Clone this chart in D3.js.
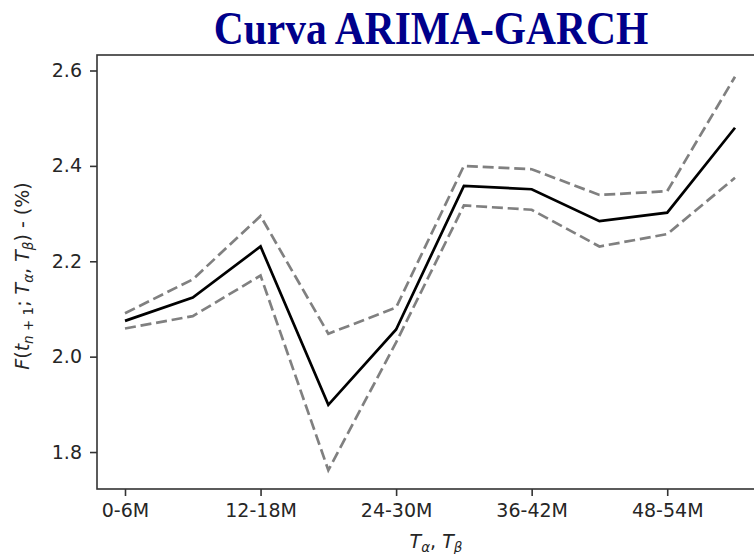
<!DOCTYPE html>
<html>
<head>
<meta charset="utf-8">
<script src="https://cdn.jsdelivr.net/npm/d3@7"></script>
<style>
  html, body { margin: 0; padding: 0; background: #fff; }
  svg { display: block; }
</style>
</head>
<body>
<svg id="chart" width="754" height="554"></svg>
<script>
// ---- data ----
const categories = ["0-6M","6-12M","12-18M","18-24M","24-30M","30-36M","36-42M","42-48M","48-54M","54-60M"];
const meanValues  = [2.075, 2.124, 2.231, 1.899, 2.057, 2.358, 2.351, 2.284, 2.302, 2.480];
const upperValues = [2.091, 2.162, 2.295, 2.048, 2.103, 2.400, 2.393, 2.339, 2.347, 2.587];
const lowerValues = [2.059, 2.085, 2.170, 1.762, 2.030, 2.317, 2.308, 2.231, 2.257, 2.375];
const xTickIndex  = [0, 2, 4, 6, 8];
const yTicks      = [1.8, 2.0, 2.2, 2.4, 2.6];
const titleText   = "Curva ARIMA-GARCH";

// ---- layout ----
const svg = d3.select("#chart");
const plot = { left: 97, top: 55, right: 770, bottom: 489 };

const x = d3.scaleLinear().domain([0, categories.length - 1]).range([125, 735]);
const y = d3.scaleLinear().domain([1.7225, 2.6325]).range([plot.bottom, plot.top]);

const axisColor = "#333";
const textColor = "#262626";
const font = "'DejaVu Sans', sans-serif";
const fs = "19px";

// ---- lines ----
const line = d3.line().x((d, i) => x(i)).y(d => y(d));

svg.append("path").datum(upperValues)
  .attr("d", line).attr("fill", "none")
  .attr("stroke", "#808080").attr("stroke-width", 2.7)
  .attr("stroke-dasharray", "11,4.8");
svg.append("path").datum(lowerValues)
  .attr("d", line).attr("fill", "none")
  .attr("stroke", "#808080").attr("stroke-width", 2.7)
  .attr("stroke-dasharray", "11,4.8");
svg.append("path").datum(meanValues)
  .attr("d", line).attr("fill", "none")
  .attr("stroke", "#000").attr("stroke-width", 2.7)
  .attr("stroke-linejoin", "miter");

// ---- frame ----
svg.append("rect")
  .attr("x", plot.left).attr("y", plot.top)
  .attr("width", plot.right - plot.left).attr("height", plot.bottom - plot.top)
  .attr("fill", "none").attr("stroke", axisColor).attr("stroke-width", 1.6);

// ---- axes ----
const yAxis = d3.axisLeft(y).tickValues(yTicks).tickFormat(d3.format(".1f"))
  .tickSize(7).tickPadding(8);
const gy = svg.append("g").attr("transform", `translate(${plot.left},0)`).call(yAxis);
gy.select(".domain").remove();
gy.selectAll(".tick line").attr("stroke", axisColor).attr("stroke-width", 1.6);
gy.selectAll(".tick text").attr("fill", textColor)
  .style("font-family", font).style("font-size", fs);

const xAxis = d3.axisBottom(x).tickValues(xTickIndex).tickFormat(i => categories[i])
  .tickSize(7).tickPadding(8);
const gx = svg.append("g").attr("transform", `translate(0,${plot.bottom})`).call(xAxis);
gx.select(".domain").remove();
gx.selectAll(".tick line").attr("stroke", axisColor).attr("stroke-width", 1.6);
gx.selectAll(".tick text").attr("fill", textColor)
  .style("font-family", font).style("font-size", fs);

// ---- title ----
svg.append("text")
  .attr("transform", "translate(431,44) scale(1,1.14)")
  .attr("text-anchor", "middle")
  .attr("fill", "#00008B")
  .style("font-family", "'Liberation Serif', 'Times New Roman', serif")
  .style("font-weight", "bold")
  .style("font-size", "41.5px")
  .text(titleText);

// ---- y label (math-like) ----
const yl = svg.append("text")
  .attr("transform", "translate(29,276) rotate(-90)")
  .attr("text-anchor", "middle")
  .attr("fill", textColor)
  .style("font-family", font).style("font-size", fs);
function add(t, txt, opts = {}) {
  const s = t.append("tspan").text(txt);
  if (opts.italic) s.style("font-style", "italic");
  if (opts.size) s.style("font-size", opts.size);
  if (opts.dy !== undefined) s.attr("dy", opts.dy);
  return s;
}
add(yl, "F", { italic: true });
add(yl, "(");
add(yl, "t", { italic: true });
add(yl, "n", { italic: true, size: "13.5px", dy: 4 });
add(yl, " + 1", { size: "13.5px" });
add(yl, "; ", { dy: -4 });
add(yl, "T", { italic: true });
add(yl, "α", { italic: true, size: "13.5px", dy: 4 });
add(yl, ", ", { dy: -4 });
add(yl, "T", { italic: true });
add(yl, "β", { italic: true, size: "13.5px", dy: 4 });
add(yl, ") - (%)", { dy: -4 });

// ---- x label ----
const xl = svg.append("text")
  .attr("x", 436).attr("y", 548)
  .attr("text-anchor", "middle")
  .attr("fill", textColor)
  .style("font-family", font).style("font-size", fs);
add(xl, "T", { italic: true });
add(xl, "α", { italic: true, size: "13.5px", dy: 4 });
add(xl, ", ", { dy: -4 });
add(xl, "T", { italic: true });
add(xl, "β", { italic: true, size: "13.5px", dy: 4 });
</script>
</body>
</html>
